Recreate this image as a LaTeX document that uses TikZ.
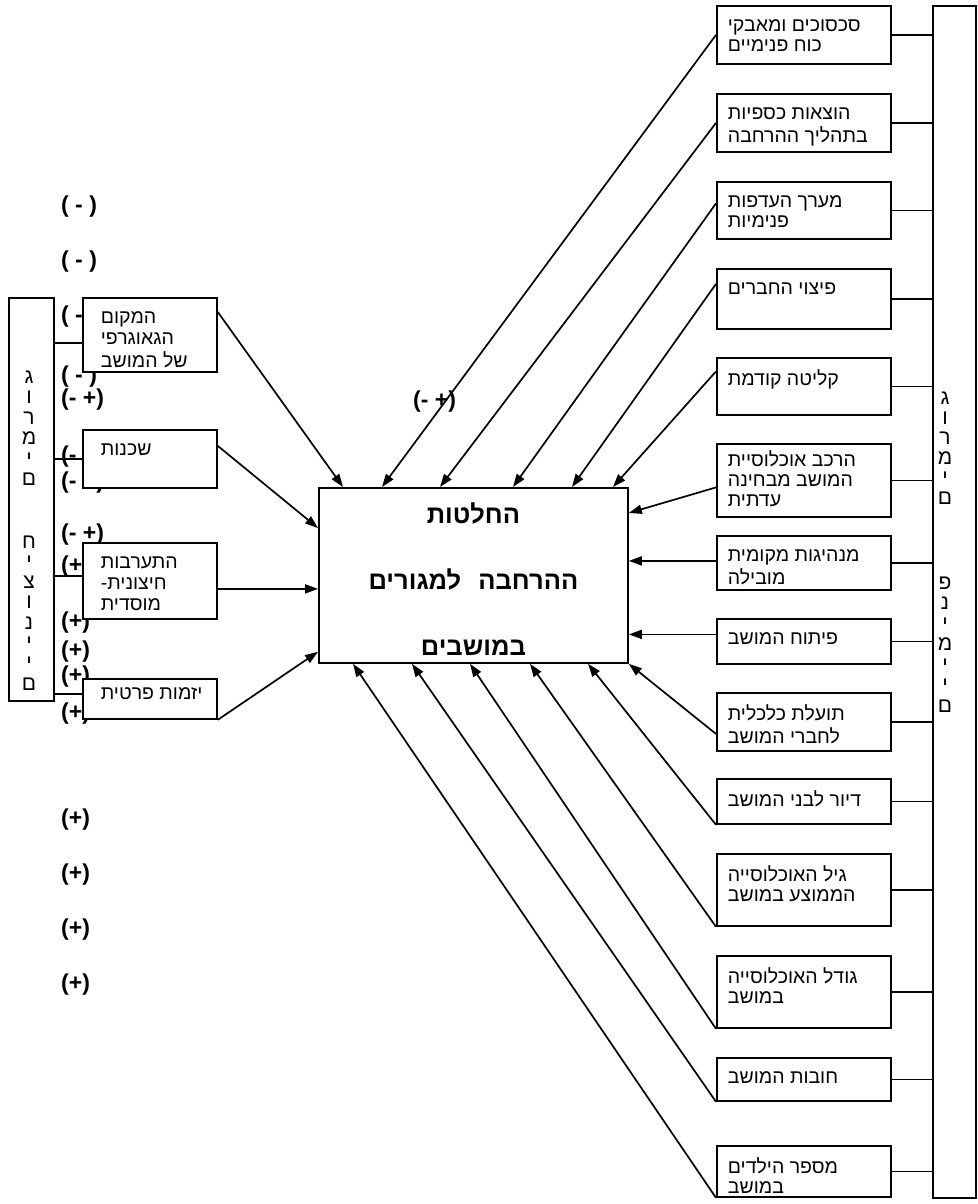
\documentclass[tikz,border=0pt]{standalone}
\usepackage{fontspec}
\setmainfont{Liberation Sans}
\newfontfamily\heb[Script=Hebrew]{Liberation Sans}
\TeXXeTstate=1
\usetikzlibrary{arrows.meta,calc}
\newcommand\rl[1]{\strut\beginR #1\endR}
\newcommand\rtext[2]{\parbox[c][#1pt][t]{174pt}{\heb\fontsize{19.5}{20}\selectfont\raggedright\leftskip=11pt\relax\vspace*{12pt}#2}}
\newcommand\ltext[2]{\parbox[c][#1pt][t]{134pt}{\heb\fontsize{19.5}{21}\selectfont\raggedright\leftskip=18pt\relax\vspace*{10.5pt}#2}}
\begin{document}
\begin{tikzpicture}[x=1pt,y=-1pt,
  bx/.style={draw, line width=1.8pt, fill=white, inner sep=0pt, anchor=north west},
  col/.style={draw, line width=1.8pt, inner sep=0pt, anchor=north west},
  arr/.style={line width=1.7pt, -{Triangle[length=13pt,width=9pt]}},
  ln/.style={line width=1.7pt},
  lbl/.style={font=\fontsize{23}{23}\selectfont\bfseries, inner sep=0pt, anchor=west},
  vl/.style={font=\heb\fontsize{21}{21}\selectfont, inner sep=0pt, anchor=base}]
\useasboundingbox (0,0) rectangle (977,1204);

% sign labels
\node[lbl] (s1) at (61,207) {( - )};
\node[lbl] (s2) at (61,262) {( - )};
\node[lbl] (s3) at (61,317) {( - )};
\node[lbl] (s4) at (61,377) {( - )};
\node[lbl] (s5) at (61,400) {(- +)};
\node[lbl] (s6) at (61,457) {(- +)};
\node[lbl] (s7) at (61,483) {(- +)};
\node[lbl] (s8) at (61,535) {(- +)};
\node[lbl] (s9) at (61,567) {(+)};
\node[lbl] (s10) at (61,623) {(+)};
\node[lbl] (s11) at (61,652) {(+)};
\node[lbl] (s12) at (61,677) {(+)};
\node[lbl] (s13) at (61,714) {(+)};
\node[lbl] (s14) at (61,820) {(+)};
\node[lbl] (s15) at (61,875) {(+)};
\node[lbl] (s16) at (61,930) {(+)};
\node[lbl] (s17) at (61,985) {(+)};
\node[lbl] (s18) at (413,402) {(- +)};

% columns
\node[col, minimum width=45pt, minimum height=403pt] (lcol) at (8,297) {};
\node[col, minimum width=43pt, minimum height=1192pt] (rcol) at (932,5) {};
\foreach \l [count=\i, evaluate=\i as \yy using 383+20.5*(\i-1)] in {ג,ו,ר,מ,י,ם}
  \node[vl] (la\i) at (29,\yy) {\l};
\foreach \l [count=\i, evaluate=\i as \yy using 548+20.3*(\i-1)] in {ח,י,צ,ו,נ,י,י,ם}
  \node[vl] (lb\i) at (29,\yy) {\l};
\foreach \l [count=\i, evaluate=\i as \yy using 404+20*(\i-1)] in {ג,ו,ר,מ,י,ם}
  \node[vl] (ra\i) at (945,\yy) {\l};
\foreach \l [count=\i, evaluate=\i as \yy using 589+20.5*(\i-1)] in {פ,נ,י,מ,י,י,ם}
  \node[vl] (rb\i) at (945,\yy) {\l};

% left boxes
\node[bx] (L1) at (82,297) {\ltext{74}{\rl{המקום}\\\rl{הגאוגרפי}\\\rl{של המושב}}};
\node[bx] (L2) at (82,429) {\ltext{58}{\rl{שכנות}}};
\node[bx] (L3) at (82,542) {\ltext{76}{\rl{התערבות}\\\rl{חיצונית\kern0pt-}\\\rl{מוסדית}}};
\node[bx] (L4) at (82,678) {\parbox[c][40pt][t]{134pt}{\heb\fontsize{19.5}{21}\selectfont\raggedright\leftskip=18pt\relax\vspace*{6pt}\rl{יזמות פרטית}}};

% right boxes
\node[bx] (b1) at (716,5) {\rtext{58}{\rl{סכסוכים ומאבקי}\\\rl{כוח פנימיים}}};
\node[bx] (b2) at (716,93) {\rtext{58}{\rl{הוצאות כספיות}\\\rl{בתהליך ההרחבה}}};
\node[bx] (b3) at (716,181) {\rtext{57}{\rl{מערך העדפות}\\\rl{פנימיות}}};
\node[bx] (b4) at (716,268) {\rtext{60}{\rl{פיצוי החברים}}};
\node[bx] (b5) at (716,357) {\rtext{57}{\rl{קליטה קודמת}}};
\node[bx] (b6) at (716,443) {\parbox[c][73pt][t]{174pt}{\heb\fontsize{19.5}{20}\selectfont\raggedright\leftskip=11pt\relax\vspace*{7pt}\rl{הרכב אוכלוסיית}\\\rl{המושב מבחינה}\\\rl{עדתית}}};
\node[bx] (b7) at (716,535) {\rtext{54}{\rl{מנהיגות מקומית}\\\rl{מובילה}}};
\node[bx] (b8) at (716,618) {\rtext{45}{\rl{פיתוח המושב}}};
\node[bx] (b9) at (716,692) {\rtext{58}{\rl{תועלת כלכלית}\\\rl{לחברי המושב}}};
\node[bx] (b10) at (716,778) {\rtext{45}{\rl{דיור לבני המושב}}};
\node[bx] (b11) at (716,853) {\rtext{72}{\rl{גיל האוכלוסייה}\\\rl{הממוצע במושב}}};
\node[bx] (b12) at (716,955) {\rtext{72}{\rl{גודל האוכלוסייה}\\\rl{במושב}}};
\node[bx] (b13) at (716,1057) {\rtext{43}{\rl{חובות המושב}}};
\node[bx] (b14) at (716,1145) {\rtext{51}{\rl{מספר הילדים}\\\rl{במושב}}};

% centre box
\node[bx, minimum width=309pt, minimum height=175pt, align=center,
  font=\heb\bfseries\fontsize{25.5}{66}\selectfont] (c) at (318,487)
  {\rule{0pt}{28pt}\beginR החלטות\endR\\\beginR ההרחבה\hspace{10pt} למגורים\endR\\\beginR במושבים\endR};

% column to box connectors
\draw[ln] ($(L1.west)+(0,8)$) coordinate (p1) -- (p1 -| lcol.east);
\draw[ln] (L2.west) -- (L2.west -| lcol.east);
\draw[ln] ($(L3.west)+(0,-5)$) coordinate (p3) -- (p3 -| lcol.east);
\draw[ln] ($(L4.west)+(0,-5)$) coordinate (p4) -- (p4 -| lcol.east);
\foreach \b in {b1,b2,b3,b4,b5,b6,b7,b8,b9,b10,b11,b12,b13,b14}
  \draw[ln] (\b.east) -- (\b.east -| rcol.west);

% left factors to centre
\draw[arr] ($(L1.north east)+(0,15)$) -- ($(c.north west)+(25,0)$);
\draw[arr] ($(L2.east)+(0,-13)$) -- ($(c.north west)+(0,41)$);
\draw[arr] ($(L3.east)+(0,8)$) coordinate (q3) -- (q3 -| c.west);
\draw[arr] (L4.south east) -- ($(c.south west)+(0,-12)$);

% right factors to centre
\draw[arr] (b1.west) -- ($(c.north west)+(64,0)$);
\draw[arr] (b2.west) -- ($(c.north west)+(122,0)$);
\draw[arr] ($(b3.west)+(0,-7)$) -- ($(c.north west)+(195,0)$);
\draw[arr] ($(b4.west)+(0,-15)$) -- ($(c.north west)+(254,0)$);
\draw[arr] ($(b5.west)+(0,-15)$) -- ($(c.north west)+(295,0)$);
\draw[arr] ($(b6.west)+(0,7)$) -- ($(c.north east)+(0,26)$);
\draw[arr] ($(b7.west)+(0,-2)$) coordinate (q7) -- (q7 -| c.east);
\draw[arr] ($(b8.west)+(0,-7)$) coordinate (q8) -- (q8 -| c.east);
\draw[arr] ($(b9.west)+(0,12)$) -- (c.south east);
\draw[arr] (b10.south west) -- ($(c.south west)+(270,0)$);
\draw[arr] (b11.south west) -- ($(c.south west)+(212,0)$);
\draw[arr] (b12.south west) -- ($(c.south west)+(152,0)$);
\draw[arr] (b13.south west) -- ($(c.south west)+(94,0)$);
\draw[arr] (b14.south west) -- ($(c.south west)+(35,0)$);
\end{tikzpicture}
\end{document}
